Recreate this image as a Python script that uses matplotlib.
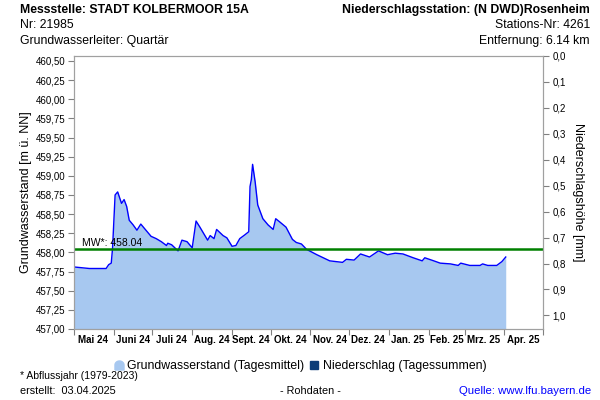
import matplotlib
matplotlib.use("Agg")
import matplotlib.pyplot as plt
from matplotlib.lines import Line2D
from matplotlib.path import Path
import numpy as np

plt.rcParams['font.family'] = ['Liberation Sans', 'DejaVu Sans']

# Grundwasserstand (Tagesmittel)
dates = ["2024-05-01", "2024-05-13", "2024-05-26", "2024-05-28", "2024-05-30",
         "2024-05-31", "2024-06-02", "2024-06-04", "2024-06-07", "2024-06-09",
         "2024-06-11", "2024-06-13", "2024-06-16", "2024-06-19", "2024-06-22",
         "2024-06-26", "2024-06-30", "2024-07-04", "2024-07-08", "2024-07-12",
         "2024-07-13", "2024-07-16", "2024-07-21", "2024-07-24", "2024-07-28",
         "2024-08-01", "2024-08-04", "2024-08-07", "2024-08-13", "2024-08-15",
         "2024-08-18", "2024-08-20", "2024-08-25", "2024-08-28", "2024-09-01",
         "2024-09-04", "2024-09-07", "2024-09-11", "2024-09-14", "2024-09-15",
         "2024-09-16", "2024-09-17", "2024-09-19", "2024-09-21", "2024-09-25",
         "2024-09-29", "2024-10-03", "2024-10-05", "2024-10-08", "2024-10-13",
         "2024-10-18", "2024-10-21", "2024-10-25", "2024-10-29", "2024-11-06",
         "2024-11-16", "2024-11-21", "2024-11-26", "2024-11-29", "2024-12-05",
         "2024-12-10", "2024-12-17", "2024-12-24", "2024-12-31", "2025-01-06",
         "2025-01-12", "2025-01-20", "2025-01-27", "2025-01-29", "2025-02-05",
         "2025-02-10", "2025-02-18", "2025-02-24", "2025-02-26", "2025-03-05",
         "2025-03-13", "2025-03-15", "2025-03-19", "2025-03-26", "2025-03-30",
         "2025-04-02"]
levels = [457.81, 457.79, 457.79, 457.84, 457.86,
          458.05, 458.75, 458.79, 458.64, 458.69,
          458.60, 458.42, 458.36, 458.29, 458.37,
          458.29, 458.21, 458.18, 458.14, 458.09,
          458.12, 458.10, 458.02, 458.16, 458.14,
          458.06, 458.41, 458.33, 458.16, 458.22,
          458.18, 458.30, 458.22, 458.19, 458.08,
          458.09, 458.18, 458.23, 458.27, 458.86,
          458.95, 459.15, 458.92, 458.62, 458.44,
          458.36, 458.30, 458.44, 458.40, 458.33,
          458.17, 458.13, 458.11, 458.04, 457.97,
          457.89, 457.88, 457.87, 457.91, 457.90,
          457.98, 457.94, 458.02, 457.97, 457.99,
          457.98, 457.93, 457.89, 457.93, 457.89,
          457.86, 457.85, 457.83, 457.86, 457.83,
          457.83, 457.85, 457.83, 457.83, 457.88,
          457.94]
mean_level = 458.04

month_labels = ["Mai 24", "Juni 24", "Juli 24", "Aug. 24", "Sept. 24", "Okt. 24",
                "Nov. 24", "Dez. 24", "Jan. 25", "Feb. 25", "Mrz. 25", "Apr. 25"]

x = np.array(dates, dtype="datetime64[D]")
y = np.array(levels)

fig = plt.figure(figsize=(6, 4), dpi=100)
ax = fig.add_axes([0.1233, 0.1775, 0.7817, 0.6835])

ax.fill_between(x, 457.0, y, color="#a7c8f0", linewidth=0)
ax.plot(x, y, color="#0000ff", linewidth=1)
ax.axhline(mean_level, color="#008000", linewidth=1.8)
ax.text(np.datetime64("2024-05-07"), mean_level + 0.015, "MW*: 458.04",
        fontsize=7.5, va="bottom", ha="left")

ax.set_xlim(np.datetime64("2024-05-01"), np.datetime64("2025-05-01"))
ax.set_ylim(457.0, 460.57)
yt = np.arange(457.0, 460.51, 0.25)
ax.set_yticks(yt)
ax.set_yticklabels([f"{v:.2f}".replace(".", ",") for v in yt])

month_starts = np.arange(np.datetime64("2024-05"), np.datetime64("2025-06"),
                         dtype="datetime64[M]").astype("datetime64[D]")
ax.set_xticks(month_starts)
ax.set_xticklabels([])
mids = month_starts[:-1] + (month_starts[1:] - month_starts[:-1]) // 2
ax.set_xticks(mids, minor=True)
ax.set_xticklabels(month_labels, minor=True, fontsize=7, fontweight="bold")
ax.tick_params(axis="x", which="minor", length=0, pad=4)
ax.tick_params(axis="x", which="major", length=4, color="#808080")
ax.tick_params(axis="y", labelsize=7, length=4, pad=2, color="#808080")

for s in ax.spines.values():
    s.set_color("#a0a0a0")

ax.set_ylabel("Grundwasserstand [m ü. NN]", fontsize=9, labelpad=3)

ax2 = ax.twinx()
ax2.set_ylim(1.052, 0.0)
rt = np.arange(0, 1.01, 0.1)
ax2.set_yticks(rt)
ax2.set_yticklabels([f"{v:.1f}".replace(".", ",") for v in rt])
ax2.tick_params(axis="y", labelsize=7, length=4, pad=3, color="#808080")
for s in ax2.spines.values():
    s.set_color("#a0a0a0")
ax2.set_ylabel("Niederschlagshöhe [mm]", fontsize=9, rotation=270, labelpad=13)

# header
hs = 8.8
fig.text(20 / 600, 1 - 10 / 400, "Messstelle: STADT KOLBERMOOR 15A", fontsize=hs,
         fontweight="bold", va="center", ha="left")
fig.text(20 / 600, 1 - 25 / 400, "Nr: 21985", fontsize=hs, va="center", ha="left")
fig.text(20 / 600, 1 - 41 / 400, "Grundwasserleiter: Quartär", fontsize=hs,
         va="center", ha="left")
fig.text(590 / 600, 1 - 10 / 400, "Niederschlagsstation: (N DWD)Rosenheim", fontsize=hs,
         fontweight="bold", va="center", ha="right")
fig.text(590 / 600, 1 - 25 / 400, "Stations-Nr: 4261", fontsize=hs, va="center", ha="right")
fig.text(590 / 600, 1 - 41 / 400, "Entfernung: 6.14 km", fontsize=hs, va="center", ha="right")

# legend: dome-shaped area icon and square bar icon
t = np.linspace(np.pi, 0, 20)
arc = np.column_stack([np.cos(t), 0.1 + 0.9 * np.sin(t)])
dome_verts = np.vstack([[[-1, -1]], arc, [[1, -1], [-1, -1]]])
dome = Path(dome_verts)
handles = [Line2D([], [], marker=dome, linestyle="none", color="#a7c8f0", markersize=6.5),
           Line2D([], [], marker="s", linestyle="none", color="#0d3d78",
                  markersize=6)]
fig.legend(handles, ["Grundwasserstand (Tagesmittel)", "Niederschlag (Tagessummen)"],
           loc="center", bbox_to_anchor=(300 / 600, 1 - 366 / 400), ncol=2, frameon=False,
           fontsize=8.8, handletextpad=0.3, columnspacing=0.4, handlelength=0.8)

# footer
fig.text(20 / 600, 1 - 376 / 400, "* Abflussjahr (1979-2023)", fontsize=7.5,
         va="center", ha="left")
fig.text(20 / 600, 1 - 391 / 400, "erstellt:  03.04.2025", fontsize=7.8, va="center", ha="left")
fig.text(310 / 600, 1 - 391 / 400, "- Rohdaten -", fontsize=7.8, va="center", ha="center")
fig.text(591 / 600, 1 - 391 / 400, "Quelle: www.lfu.bayern.de", fontsize=8.2,
         color="#0000ff", va="center", ha="right")

fig.savefig("out.png", dpi=100)
